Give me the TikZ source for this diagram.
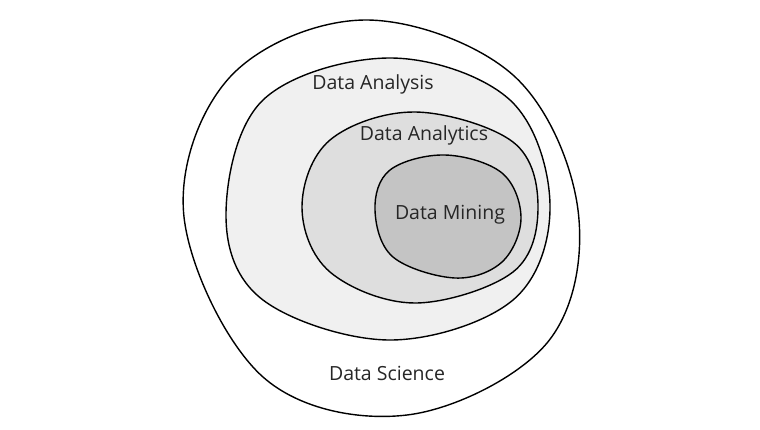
\documentclass[tikz,border=0pt]{standalone}
\usepackage{fontspec}
\setmainfont{Open Sans}
\begin{document}
\begin{tikzpicture}[x=1pt,y=-1pt,
  blob/.style={draw=black,line width=1.4pt,line join=round},
  lbl/.style={font=\fontsize{19.5}{22}\selectfont,text=black!85,inner sep=0pt}]
\useasboundingbox[fill=white] (0,0) rectangle (760,429);
% Data Science
\draw[blob,fill=white] plot[smooth cycle,tension=0.6] coordinates {
  (365,20) (513,75) (578,210) (547,343) (407,415) (263,377) (184,217) (230,77)};
% Data Analysis
\draw[blob,fill=black!6] plot[smooth cycle,tension=0.6] coordinates {
  (390,58) (510,100) (550,205) (513,300) (390,340) (263,300) (226,215) (263,100)};
% Data Analytics
\draw[blob,fill=black!13] plot[smooth cycle,tension=0.6] coordinates {
  (415,112) (513,142) (538,207) (513,272) (415,303) (330,272) (302,207) (330,140)};
% Data Mining
\draw[blob,fill=black!23] plot[smooth cycle,tension=0.6] coordinates {
  (445,155) (502,173) (521,218) (502,262) (455,278) (393,257) (375,210) (390,170)};
\node[lbl] (ana) at (373,84) {Data Analysis};
\node[lbl] (tics) at (424,135) {Data Analytics};
\node[lbl] (min) at (450,215) {Data Mining};
\node[lbl] (sci) at (387,373) {Data Science};
\end{tikzpicture}
\end{document}
